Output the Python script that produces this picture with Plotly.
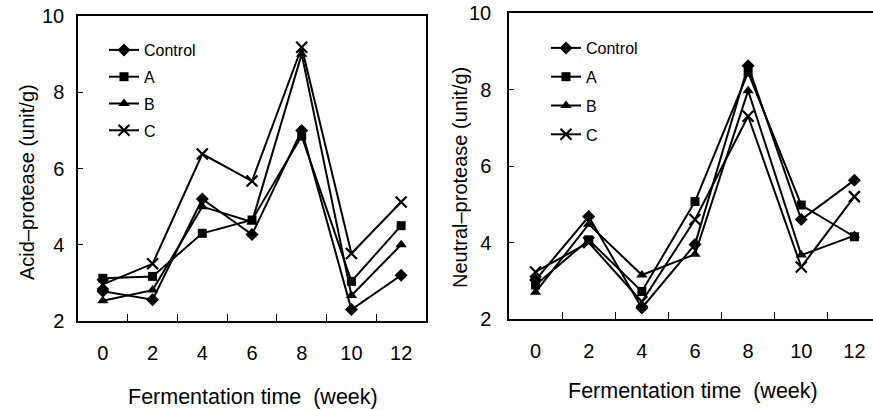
import plotly.graph_objects as go

weeks = ["0", "2", "4", "6", "8", "10", "12"]
series_names = ["Control", "A", "B", "C"]

acid_control = [2.78, 2.56, 5.20, 4.27, 7.00, 2.30, 3.20]
acid_a = [3.12, 3.17, 4.30, 4.65, 6.85, 3.04, 4.50]
acid_b = [2.53, 2.81, 5.00, 4.60, 9.00, 2.67, 4.00]
acid_c = [2.96, 3.50, 6.38, 5.67, 9.18, 3.77, 5.12]

neutral_control = [3.02, 4.68, 2.29, 3.95, 8.62, 4.60, 5.63]
neutral_a = [2.89, 4.07, 2.72, 5.07, 8.45, 4.98, 4.15]
neutral_b = [2.70, 4.48, 3.15, 3.69, 7.97, 3.67, 4.18]
neutral_c = [3.23, 4.00, 2.45, 4.60, 7.30, 3.36, 5.20]

y_ticks = [2, 4, 6, 8, 10]

markers = [
    dict(symbol="diamond", size=10, color="black"),
    dict(symbol="square", size=9, color="black"),
    dict(symbol="triangle-up", size=10, color="black"),
    dict(symbol="x-thin", size=11, color="black", line=dict(width=2.2, color="black")),
]

FONT = "Liberation Sans, Arial, sans-serif"
W, H = 873, 410

fig = go.Figure()

acid = [acid_control, acid_a, acid_b, acid_c]
neutral = [neutral_control, neutral_a, neutral_b, neutral_c]

for i, (name, vals) in enumerate(zip(series_names, acid)):
    fig.add_trace(go.Scatter(
        x=weeks, y=vals, name=name, mode="lines+markers",
        line=dict(color="black", width=2), marker=markers[i],
        xaxis="x", yaxis="y", legend="legend", legendgroup="l" + name,
    ))
for i, (name, vals) in enumerate(zip(series_names, neutral)):
    fig.add_trace(go.Scatter(
        x=weeks, y=vals, name=name, mode="lines+markers",
        line=dict(color="black", width=2), marker=markers[i],
        xaxis="x2", yaxis="y2", legend="legend2", legendgroup="r" + name,
    ))

def px_x(p):
    return p / W

def px_y(p):
    return 1 - p / H

common_x = dict(
    type="category", tickson="boundaries", ticks="inside", ticklen=7,
    tickwidth=1.2, tickcolor="black", showline=True, linecolor="black",
    linewidth=1.5, mirror=True, showgrid=False, zeroline=False,
    tickfont=dict(family=FONT, size=20, color="black"),
    ticklabelstandoff=13, automargin=False,
)
common_y = dict(
    range=[2, 10], tickvals=y_ticks, ticks="inside", ticklen=5,
    tickwidth=1.2, tickcolor="black", showline=True, linecolor="black",
    linewidth=1.5, mirror=True, showgrid=False, zeroline=False,
    tickfont=dict(family=FONT, size=20, color="black"), automargin=False,
)

legend_common = dict(
    font=dict(family=FONT, size=16, color="black"),
    bgcolor="rgba(0,0,0,0)", borderwidth=0,
    traceorder="grouped", xanchor="left", yanchor="top",
)

title_font = dict(family=FONT, size=20, color="black")
xtitle_font = dict(family=FONT, size=21.5, color="black")

fig.update_layout(
    width=W, height=H,
    margin=dict(l=0, r=0, t=0, b=0),
    paper_bgcolor="white", plot_bgcolor="white",
    xaxis=dict(common_x, domain=[px_x(78), px_x(426)], range=[-0.5, 6.5], anchor="y"),
    yaxis=dict(common_y, domain=[px_y(321), px_y(16)], anchor="x", ticklabelstandoff=8),
    xaxis2=dict(common_x, domain=[px_x(509), 1.0], range=[-0.5, 6.35], anchor="y2"),
    yaxis2=dict(common_y, domain=[px_y(319), px_y(13)], anchor="x2", ticklabelstandoff=12),
    legend=dict(legend_common, x=px_x(104), y=px_y(33), tracegroupgap=3),
    legend2=dict(legend_common, x=px_x(546), y=px_y(31), tracegroupgap=5),
    showlegend=True,
    annotations=[
        dict(text="Acid\u2013protease (unit/g)", x=px_x(27), y=px_y(182), xref="paper", yref="paper",
             xanchor="center", yanchor="middle", textangle=-90, showarrow=False, font=title_font),
        dict(text="Neutral\u2013protease (unit/g)", x=px_x(460), y=px_y(178), xref="paper", yref="paper",
             xanchor="center", yanchor="middle", textangle=-90, showarrow=False, font=title_font),
        dict(text="Fermentation time  (week)", x=px_x(253), y=px_y(397), xref="paper", yref="paper",
             xanchor="center", yanchor="middle", showarrow=False, font=xtitle_font),
        dict(text="Fermentation time  (week)", x=px_x(693), y=px_y(391), xref="paper", yref="paper",
             xanchor="center", yanchor="middle", showarrow=False, font=xtitle_font),
    ],
)

fig.write_html("out.html")
